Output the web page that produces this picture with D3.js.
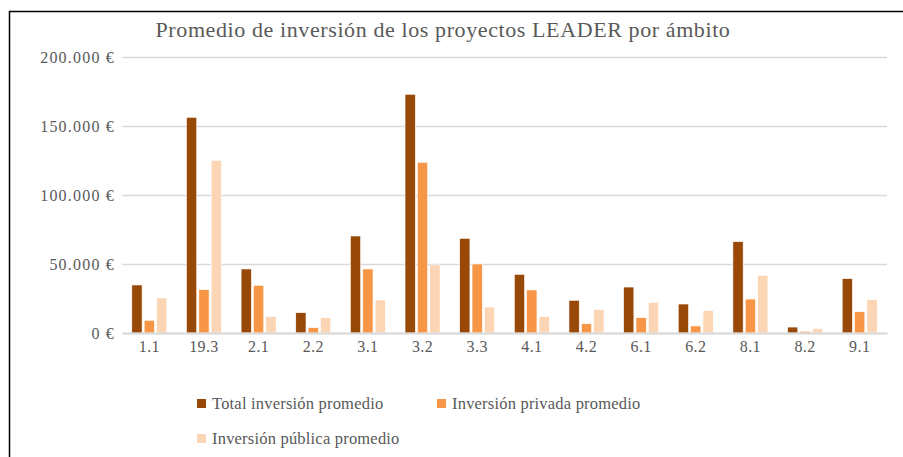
<!DOCTYPE html>
<html>
<head>
<meta charset="utf-8">
<script src="https://cdn.jsdelivr.net/npm/d3@7"></script>
<style>
	body { margin: 0; background: #fff; }
	text { font-family: "Liberation Serif", serif; fill: #595959; }
</style>
</head>
<body>
<div id="chart"></div>
<script>
	// data
	var categories = ["1.1", "19.3", "2.1", "2.2", "3.1", "3.2", "3.3", "4.1", "4.2", "6.1", "6.2", "8.1", "8.2", "9.1"];
	var totalValues = [34800, 156300, 46400, 14700, 70300, 173000, 68600, 42500, 23700, 33300, 21000, 66200, 4300, 39400];
	var privadaValues = [9200, 31400, 34600, 3900, 46400, 123700, 50000, 31200, 6700, 11100, 5100, 24600, 1200, 15400];
	var publicaValues = [25400, 125100, 11800, 11100, 23900, 49300, 18800, 11800, 16900, 22200, 16200, 41800, 3100, 24100];
	var seriesNames = ["Total inversión promedio", "Inversión privada promedio", "Inversión pública promedio"];
	var yTicks = [0, 50000, 100000, 150000, 200000];
	var title = "Promedio de inversión de los proyectos LEADER por ámbito";

	var colors = ["#984807", "#f79646", "#fcd5b5"];
	var series = [totalValues, privadaValues, publicaValues];

	var W = 903, H = 457;
	var margin = {top: 57, right: 16, bottom: 124, left: 122};
	var width = W - margin.left - margin.right,
		height = H - margin.top - margin.bottom;

	var svg = d3.select("#chart").append("svg")
		.attr("width", W)
		.attr("height", H);

	// outer frame (only top and left edges visible in the crop)
	svg.append("line").attr("x1", 9.5).attr("x2", W).attr("y1", 11.5).attr("y2", 11.5)
		.attr("stroke", "#000").attr("stroke-width", 1.5);
	svg.append("line").attr("x1", 9.5).attr("x2", 9.5).attr("y1", 11).attr("y2", H)
		.attr("stroke", "#000").attr("stroke-width", 1.5);

	svg.append("text")
		.attr("x", 443).attr("y", 37)
		.attr("text-anchor", "middle")
		.style("font-size", "22px")
		.style("letter-spacing", "0.6px")
		.text(title);

	var g = svg.append("g")
		.attr("transform", "translate(" + margin.left + "," + margin.top + ")");

	var x = d3.scaleBand().domain(categories).range([0, width]);
	var xs = d3.scaleBand().domain(d3.range(series.length))
		.range([x.bandwidth() / 2 - 17.5, x.bandwidth() / 2 + 17.5]).paddingInner(0.17);
	var y = d3.scaleLinear().domain([0, 200000]).range([height, 0]);

	// gridlines
	g.append("g")
		.attr("class", "grid")
		.call(d3.axisLeft(y).tickValues(yTicks).tickSize(-width).tickFormat(""))
		.call(function(s) {
			s.select(".domain").remove();
			s.selectAll("line").attr("stroke", "#d9d9d9").attr("stroke-width", 1.5);
		});

	// y labels
	var fmt = d3.formatLocale({decimal: ",", thousands: ".", grouping: [3], currency: ["", " €"]}).format("$,.0f");
	g.append("g")
		.call(d3.axisLeft(y).tickValues(yTicks).tickSize(0).tickPadding(7).tickFormat(fmt))
		.call(function(s) {
			s.select(".domain").remove();
			s.selectAll("text").style("font-size", "16px").style("letter-spacing", "1.2px").attr("fill", "#595959");
		});

	// bars
	series.forEach(function(vals, i) {
		g.append("g").selectAll("rect")
			.data(vals)
			.enter().append("rect")
			.attr("x", function(d, j) { return x(categories[j]) + xs(i); })
			.attr("width", xs.bandwidth())
			.attr("y", function(d) { return y(d); })
			.attr("height", function(d) { return height - y(d); })
			.attr("fill", colors[i])
			.attr("stroke", "#fff")
			.attr("stroke-width", 0.6);
	});

	// x axis
	g.append("g")
		.attr("transform", "translate(0," + height + ")")
		.call(d3.axisBottom(x).tickSize(0).tickPadding(8))
		.call(function(s) {
			s.select(".domain").attr("stroke", "#d9d9d9").attr("stroke-width", 2);
			s.selectAll("text").style("font-size", "16px").style("letter-spacing", "0.4px").attr("fill", "#595959");
		});

	// legend
	var legendPos = [[197, 399], [437, 399], [197, 434]];
	var legend = svg.append("g").selectAll("g")
		.data(seriesNames)
		.enter().append("g")
		.attr("transform", function(d, i) { return "translate(" + legendPos[i][0] + "," + legendPos[i][1] + ")"; });
	legend.append("rect").attr("width", 9).attr("height", 9)
		.attr("fill", function(d, i) { return colors[i]; });
	legend.append("text").attr("x", 15).attr("y", 9.5)
		.style("font-size", "16.5px")
		.style("letter-spacing", "0.2px")
		.text(function(d) { return d; });
</script>
</body>
</html>
